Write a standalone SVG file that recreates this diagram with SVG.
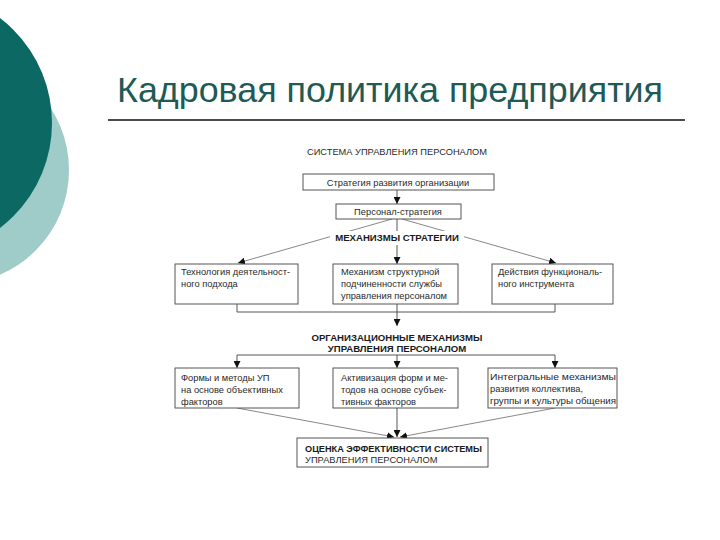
<svg xmlns="http://www.w3.org/2000/svg" width="720" height="540" viewBox="0 0 720 540">
<defs>
<style>
.t{font-family:"Liberation Sans",Arial,sans-serif;font-size:9.3px;fill:#2a2a2a}
.c{text-anchor:middle}
.b{font-weight:bold;fill:#1a1a1a}
.box{fill:#fff;stroke:#555;stroke-width:1}
.ln{fill:none;stroke:#444;stroke-width:0.9}
.thin{fill:none;stroke:#555;stroke-width:0.7}
</style>
<marker id="ah" markerUnits="userSpaceOnUse" markerWidth="8" markerHeight="7" refX="7" refY="3.5" orient="auto">
<path d="M0,0 L7,3.5 L0,7 z" fill="#111"/>
</marker>
</defs>
<rect width="720" height="540" fill="#fff"/>
<g id="decor">
<circle cx="-45" cy="170" r="114" fill="#9fcbc8"/>
<circle cx="-80" cy="123" r="132" fill="#0b6863"/>
</g>
<g id="title">
<text x="117" y="102" font-family="'Liberation Sans',Arial,sans-serif" font-size="35" fill="#1f5a56" textLength="546" lengthAdjust="spacingAndGlyphs">Кадровая политика предприятия</text>
<line x1="108" y1="120" x2="685" y2="120" stroke="#111" stroke-width="1.5"/>
</g>
<text class="t c" x="397" y="155" textLength="180" lengthAdjust="spacingAndGlyphs">СИСТЕМА УПРАВЛЕНИЯ ПЕРСОНАЛОМ</text>
<g id="connectors">
<line class="ln" x1="397" y1="190" x2="397" y2="204" marker-end="url(#ah)"/>
<line class="ln" x1="397" y1="219" x2="397" y2="264" marker-end="url(#ah)"/>
<line class="thin" x1="392" y1="219" x2="238" y2="263" marker-end="url(#ah)"/>
<line class="thin" x1="402" y1="219" x2="556" y2="263" marker-end="url(#ah)"/>
<path class="ln" d="M237,304 V312 H555 V304"/>
<line class="ln" x1="397" y1="304" x2="397" y2="326" marker-end="url(#ah)"/>
<path class="ln" d="M237,355 H555"/>
<line class="ln" x1="237" y1="355" x2="237" y2="368" marker-end="url(#ah)"/>
<line class="ln" x1="397" y1="355" x2="397" y2="368" marker-end="url(#ah)"/>
<line class="ln" x1="555" y1="355" x2="555" y2="368" marker-end="url(#ah)"/>
<line class="thin" x1="237" y1="408" x2="394" y2="437" marker-end="url(#ah)"/>
<line class="ln" x1="397" y1="408" x2="397" y2="437" marker-end="url(#ah)"/>
<line class="thin" x1="555" y1="408" x2="400" y2="437" marker-end="url(#ah)"/>
</g>
<g id="label-mech">
<rect x="330" y="231" width="134" height="14" fill="#fff"/>
<text class="t c b" x="397" y="241" style="font-size:9.6px">МЕХАНИЗМЫ СТРАТЕГИИ</text>
</g>
<g id="label-org">
<text class="t c b" x="397" y="341" style="font-size:9.6px">ОРГАНИЗАЦИОННЫЕ МЕХАНИЗМЫ</text>
<text class="t c b" x="397" y="352" style="font-size:9.6px">УПРАВЛЕНИЯ ПЕРСОНАЛОМ</text>
</g>
<g id="n-strategy">
<rect class="box" x="303" y="174" width="191" height="16"/>
<text class="t c" x="398" y="186">Стратегия развития организации</text>
</g>
<g id="n-personal">
<rect class="box" x="336" y="204" width="125" height="15"/>
<text class="t c" x="398" y="215">Персонал-стратегия</text>
</g>
<g id="n-tech">
<rect class="box" x="175" y="264" width="123" height="40"/>
<text class="t" x="181" y="275">Технология деятельност-</text>
<text class="t" x="181" y="287">ного подхода</text>
</g>
<g id="n-struct">
<rect class="box" x="333" y="264" width="125" height="40"/>
<text class="t" x="341" y="275">Механизм структурной</text>
<text class="t" x="341" y="287">подчиненности службы</text>
<text class="t" x="341" y="299">управления персоналом</text>
</g>
<g id="n-func">
<rect class="box" x="492" y="264" width="121" height="40"/>
<text class="t" x="498" y="275">Действия функциональ-</text>
<text class="t" x="498" y="287">ного инструмента</text>
</g>
<g id="n-forms">
<rect class="box" x="175" y="368" width="124" height="40"/>
<text class="t" x="181" y="381">Формы и методы УП</text>
<text class="t" x="181" y="393">на основе объективных</text>
<text class="t" x="181" y="405">факторов</text>
</g>
<g id="n-activ">
<rect class="box" x="333" y="368" width="125" height="40"/>
<text class="t" x="341" y="381">Активизация форм и ме-</text>
<text class="t" x="341" y="393">тодов на основе субъек-</text>
<text class="t" x="341" y="405">тивных факторов</text>
</g>
<g id="n-integr">
<rect class="box" x="488" y="368" width="129" height="40"/>
<text class="t" x="490" y="380" textLength="126" lengthAdjust="spacingAndGlyphs">Интегральные механизмы</text>
<text class="t" x="490" y="392">развития коллектива,</text>
<text class="t" x="490" y="404" textLength="126" lengthAdjust="spacingAndGlyphs">группы и культуры общения</text>
</g>
<g id="n-eval">
<rect class="box" x="297" y="438" width="191" height="29"/>
<text class="t b" x="305" y="452" textLength="177" lengthAdjust="spacingAndGlyphs">ОЦЕНКА ЭФФЕКТИВНОСТИ СИСТЕМЫ</text>
<text class="t" x="305" y="463">УПРАВЛЕНИЯ ПЕРСОНАЛОМ</text>
</g>
</svg>
